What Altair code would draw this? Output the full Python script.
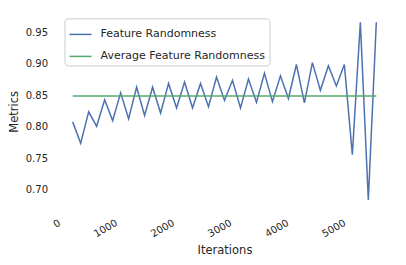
import altair as alt
import pandas as pd

iterations = [175, 315, 455, 595, 735, 875, 1015, 1155, 1295, 1435, 1575, 1715, 1855,
              1995, 2135, 2275, 2415, 2555, 2695, 2835, 2975, 3115, 3255, 3395, 3535,
              3675, 3815, 3955, 4095, 4235, 4375, 4515, 4655, 4795, 4935, 5075, 5215,
              5355, 5495]
randomness = [0.808, 0.774, 0.824, 0.801, 0.843, 0.810, 0.854, 0.813, 0.863, 0.818,
              0.863, 0.822, 0.869, 0.830, 0.871, 0.830, 0.869, 0.832, 0.879, 0.842,
              0.874, 0.830, 0.876, 0.839, 0.885, 0.840, 0.881, 0.845, 0.899, 0.838,
              0.902, 0.858, 0.897, 0.865, 0.899, 0.756, 0.966, 0.684, 0.966]
average_value = 0.849
series_names = ["Feature Randomness", "Average Feature Randomness"]
colors = ["#4c72b0", "#55a868"]

df1 = pd.DataFrame({"Iterations": iterations, "Metrics": randomness, "series": series_names[0], "order": range(len(iterations))})
df2 = pd.DataFrame({"Iterations": [iterations[0], iterations[-1]], "Metrics": [average_value, average_value],
                    "series": series_names[1], "order": [0, 1]})
df = pd.concat([df1, df2], ignore_index=True)

font = "DejaVu Sans"
tc = "#262626"

chart = alt.Chart(df).mark_line(strokeWidth=1.5).encode(
    x=alt.X("Iterations:Q", scale=alt.Scale(domain=[-91, 5761], nice=False, zero=False),
            axis=alt.Axis(values=[0, 1000, 2000, 3000, 4000, 5000], format="d", labelAngle=-30, labelAlign="right",
                          labelBaseline="top", labelPadding=9, labelOffset=-6, titlePadding=6, title="Iterations")),
    y=alt.Y("Metrics:Q", scale=alt.Scale(domain=[0.6708, 0.9784], nice=False, zero=False),
            axis=alt.Axis(values=[0.70, 0.75, 0.80, 0.85, 0.90, 0.95], format=".2f", labelPadding=10,
                          titlePadding=6, title="Metrics")),
    color=alt.Color("series:N", scale=alt.Scale(domain=series_names, range=colors),
                    legend=alt.Legend(title=None, orient="none", legendX=7, legendY=4,
                                      symbolType="stroke", symbolSize=484, symbolStrokeWidth=1.5,
                                      labelOffset=8, padding=4, rowPadding=5, labelLimit=400,
                                      strokeColor="#cccccc", cornerRadius=3, fillColor="white")),
    order="order:Q",
).properties(
    width=334, height=194,
    autosize=alt.AutoSizeParams(type="none"),
    padding={"left": 49.5, "top": 6.4, "right": 6.5, "bottom": 48.6},
).configure_view(stroke=None).configure_axis(
    domain=False, ticks=False, grid=False, labelFont=font, titleFont=font, labelFontSize=10,
    titleFontSize=11.5, labelColor=tc, titleColor=tc, titleFontWeight="normal",
).configure_legend(labelFont=font, labelFontSize=11, labelColor=tc)

chart.save("out.html", embed_options={"renderer": "svg", "actions": False})
